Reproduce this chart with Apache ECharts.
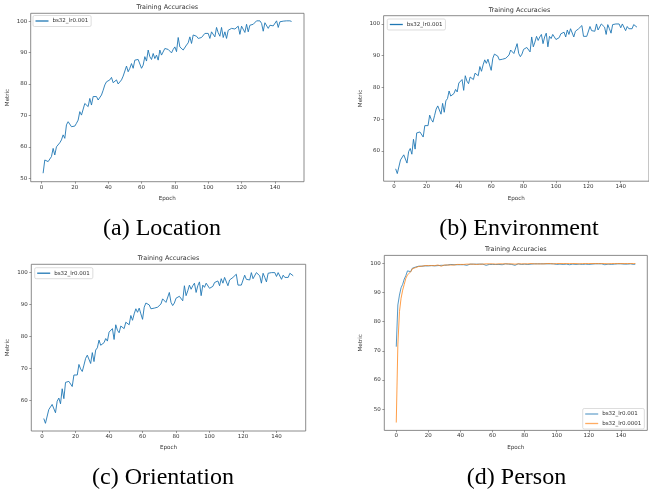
<!DOCTYPE html>
<html>
<head>
<meta charset="utf-8">
<script src="https://cdn.jsdelivr.net/npm/echarts@6/dist/echarts.min.js"></script>
<style>
  html, body { margin: 0; padding: 0; background: #fff; }
  #chart { width: 649px; height: 492px; }
</style>
</head>
<body>
<div id="chart"></div>
<script>
// (a) Location, epochs 1..150
const locationAcc = [
  51.6, 55.8, 56.4, 55.3, 55.1, 56.9, 59.5, 57.4, 60.0, 60.6,
  61.3, 62.2, 63.8, 62.7, 67.0, 68.0, 67.5, 66.4, 67.0, 66.6,
  67.5, 68.5, 71.2, 70.1, 70.7, 73.8, 74.4, 72.8, 75.4, 73.3,
  76.0, 76.5, 76.0, 74.9, 75.1, 76.5, 78.0, 79.7, 80.7, 80.2,
  81.3, 82.1, 80.4, 81.0, 81.3, 80.0, 79.9, 81.3, 82.5, 82.3,
  85.7, 83.9, 85.0, 86.5, 85.0, 87.6, 87.1, 87.8, 87.6, 85.0,
  86.0, 88.7, 87.3, 90.8, 88.7, 87.8, 89.7, 88.1, 89.2, 87.6,
  90.8, 89.2, 88.7, 91.3, 91.6, 91.0, 90.8, 89.9, 91.0, 91.8,
  90.3, 94.8, 91.8, 91.3, 90.8, 91.0, 92.4, 93.1, 95.0, 92.9,
  95.6, 95.0, 95.2, 94.5, 94.0, 94.8, 94.2, 96.1, 96.3, 96.1,
  94.5, 96.6, 97.1, 95.0, 98.0, 96.3, 95.2, 98.0, 94.8, 96.6,
  94.5, 97.1, 97.7, 97.7, 97.7, 97.5, 98.0, 98.4, 95.8, 98.4,
  98.7, 96.4, 99.0, 96.6, 98.7, 98.4, 99.0, 98.4, 100.1, 100.3,
  100.1, 99.3, 96.8, 99.5, 99.0, 97.7, 98.7, 98.2, 98.5, 99.0,
  100.1, 98.0, 99.8, 100.0, 100.0, 100.1, 100.1, 100.1, 100.1, 99.9
];

// (b) Environment and (c) Orientation share the same curve, epochs 1..150
const environmentAcc = [
  54.4, 52.9, 52.9, 57.2, 57.7, 58.8, 58.8, 56.2, 59.8, 60.8,
  59.0, 63.7, 60.6, 65.7, 65.7, 66.0, 66.2, 64.4, 68.0, 68.6,
  68.0, 71.3, 69.9, 69.1, 71.1, 73.2, 74.2, 74.7, 71.6, 75.0,
  72.2, 75.8, 76.5, 78.9, 77.3, 77.5, 78.1, 79.4, 78.6, 81.4,
  82.0, 82.5, 79.1, 83.7, 82.0, 81.2, 83.3, 82.7, 82.5, 84.5,
  84.7, 83.7, 86.6, 85.1, 87.1, 88.7, 87.6, 88.9, 87.1, 85.4,
  89.2, 90.5, 90.7, 89.9, 88.7, 88.5, 88.9, 88.9, 89.2, 89.7,
  90.2, 91.8, 91.2, 90.7, 90.2, 93.8, 90.7, 89.7, 90.5, 92.0,
  92.3, 92.6, 92.0, 91.2, 95.9, 92.8, 94.3, 96.1, 94.8, 95.9,
  96.7, 93.8, 95.9, 97.1, 92.8, 96.1, 95.4, 96.7, 96.4, 95.1,
  95.1, 95.7, 96.9, 96.4, 97.4, 95.9, 98.1, 96.7, 98.5, 99.0,
  95.9, 97.7, 98.1, 98.5, 99.0, 99.5, 96.1, 95.9, 96.1, 96.1,
  99.2, 97.9, 98.5, 97.7, 100.0, 98.1, 97.7, 100.0, 100.0, 99.0,
  96.7, 99.8, 98.5, 97.1, 99.8, 99.2, 100.0, 99.5, 100.0, 98.8,
  100.0, 99.8, 97.9, 99.2, 98.5, 98.1, 98.5, 99.8, 99.5, 99.0
];
const orientationAcc = environmentAcc;

// (d) Person, epochs 0..149
const personLr001 = [
  71.4, 85.7, 89.1, 91.6, 92.8, 94.6, 95.8, 97.4, 97.7, 97.1,
  98.3, 98.5, 98.7, 98.8, 99.0, 99.1, 99.0, 99.2, 99.1, 99.2,
  99.1, 99.3, 99.2, 99.3, 99.1, 99.4, 99.2, 99.4, 99.3, 99.5,
  99.3, 99.5, 99.4, 99.5, 99.6, 99.4, 99.5, 99.6, 99.5, 99.6,
  99.5, 99.6, 99.5, 99.7, 99.3, 99.6, 99.7, 99.6, 99.7, 99.6,
  99.7, 99.6, 99.7, 99.5, 99.7, 99.6, 99.3, 99.7, 99.6, 99.7,
  99.6, 99.7, 99.6, 99.8, 99.6, 99.7, 99.5, 99.7, 99.8, 99.6,
  99.7, 99.8, 99.6, 99.7, 99.3, 99.7, 99.8, 99.7, 99.6, 99.8,
  99.7, 99.8, 99.6, 99.8, 99.7, 99.5, 99.8, 99.7, 99.8, 99.6,
  99.8, 99.7, 99.8, 99.6, 99.8, 99.7, 99.8, 99.5, 99.8, 99.7,
  99.6, 99.8, 99.7, 99.8, 99.6, 99.8, 99.7, 99.8, 99.5, 99.8,
  99.7, 99.8, 99.6, 99.8, 99.7, 99.8, 99.6, 99.8, 99.7, 99.8,
  99.6, 99.8, 99.7, 99.5, 99.8, 99.7, 99.8, 99.6, 99.8, 99.7,
  99.5, 99.8, 99.7, 99.8, 99.6, 99.8, 99.7, 99.6, 99.8, 99.7,
  99.8, 99.6, 99.7, 99.8, 99.7, 99.6, 99.8, 99.7, 99.6, 99.7
];
const personLr0001 = [
  45.4, 72.0, 83.4, 88.0, 90.8, 92.8, 94.9, 96.0, 96.2, 97.1,
  98.1, 98.3, 98.5, 98.7, 98.9, 99.0, 99.0, 99.1, 99.2, 99.1,
  99.2, 99.3, 99.2, 99.3, 99.2, 99.3, 99.4, 99.2, 99.0, 99.3,
  99.4, 99.3, 99.4, 99.5, 99.4, 99.5, 99.4, 99.5, 99.6, 99.5,
  99.6, 99.5, 99.6, 99.6, 99.7, 99.6, 99.7, 99.6, 99.7, 99.7,
  99.6, 99.7, 99.7, 99.8, 99.7, 99.7, 99.8, 99.7, 99.8, 99.7,
  99.8, 99.8, 99.7, 99.8, 99.8, 99.7, 99.8, 99.8, 99.8, 99.7,
  99.8, 99.8, 99.8, 99.8, 99.7, 99.8, 99.8, 99.9, 99.8, 99.8,
  99.8, 99.9, 99.8, 99.8, 99.9, 99.8, 99.8, 99.9, 99.8, 99.9,
  99.8, 99.9, 99.8, 99.9, 99.9, 99.8, 99.9, 99.9, 99.8, 99.9,
  99.9, 99.8, 99.9, 99.9, 99.9, 99.8, 99.9, 99.9, 99.9, 99.8,
  99.9, 99.9, 99.9, 99.9, 99.8, 99.9, 99.9, 99.9, 99.9, 99.8,
  99.9, 99.9, 99.9, 99.9, 99.9, 99.8, 99.9, 99.9, 99.9, 99.9,
  99.9, 99.9, 99.8, 99.9, 99.9, 99.9, 99.9, 99.9, 99.9, 99.9,
  99.9, 99.9, 99.9, 99.9, 99.9, 99.9, 99.9, 99.9, 99.9, 99.9
];

const xTicks = [0, 20, 40, 60, 80, 100, 120, 140];
const yTicksABC = [60, 70, 80, 90, 100];
const yTicksA = [50, 60, 70, 80, 90, 100];
const yTicksD = [50, 60, 70, 80, 90, 100];
const captions = ['(a) Location', '(b) Environment', '(c) Orientation', '(d) Person'];
const seriesNames = ['bs32_lr0.001', 'bs32_lr0.0001'];

const BLUE = '#1f77b4';
const ORANGE = '#ff7f0e';
const TXT = '#333';
const SANS = 'DejaVu Sans';

// epoch index starts at 1 for a/b/c, 0 for d
function pairs(vals, start) {
  return vals.map((v, i) => [i + start, v]);
}

// panel boxes
const grids = [
  { left: 30.7, top: 13.3, width: 273.3, height: 168.4 },
  { left: 383.6, top: 15.7, width: 271.8, height: 165.5 },
  { left: 31.3, top: 264.3, width: 274.4, height: 166.7 },
  { left: 384.3, top: 255.4, width: 263, height: 175 }
];
const yRanges = [[48.9, 102.5], [50.5, 102.6], [50.5, 102.6], [42.7, 102.7]];
const xRanges = [[-6.45, 157.45], [-6.45, 157.45], [-6.45, 157.45], [-7.45, 156.45]];
const yTickSets = [yTicksA, yTicksABC, yTicksABC, yTicksD];

const chart = echarts.init(document.getElementById('chart'), null, { renderer: 'canvas' });

const gridOpts = grids.map(g => Object.assign({
  show: true, borderColor: '#6f6f6f', borderWidth: 0.8, backgroundColor: '#fff'
}, g));

const xAxes = grids.map((g, i) => ({
  type: 'value', gridIndex: i, position: 'bottom',
  min: xRanges[i][0], max: xRanges[i][1],
  name: 'Epoch', nameLocation: 'middle', nameGap: 14,
  nameTextStyle: { fontFamily: SANS, fontSize: 5.6, color: TXT },
  axisLine: { show: false, onZero: false },
  axisTick: { show: true, length: 2, customValues: xTicks, lineStyle: { color: '#555', width: 0.6 } },
  axisLabel: { customValues: xTicks, fontFamily: SANS, fontSize: 5.5, color: TXT, margin: 2.5 },
  splitLine: { show: false }
}));

const yAxes = grids.map((g, i) => ({
  type: 'value', gridIndex: i, position: 'left',
  min: yRanges[i][0], max: yRanges[i][1],
  name: 'Metric', nameLocation: 'middle', nameGap: 20.5,
  nameTextStyle: { fontFamily: SANS, fontSize: 5.6, color: TXT },
  axisLine: { show: false, onZero: false },
  axisTick: { show: true, length: 2, customValues: yTickSets[i], lineStyle: { color: '#555', width: 0.6 } },
  axisLabel: { customValues: yTickSets[i], fontFamily: SANS, fontSize: 5.5, color: TXT, margin: 3.5 },
  splitLine: { show: false }
}));

function lineSeries(name, data, idx, color, opacity) {
  return {
    name: name, type: 'line', xAxisIndex: idx, yAxisIndex: idx,
    data: data, showSymbol: false, symbol: 'none',
    lineStyle: { color: color, width: 0.9, opacity: opacity },
    itemStyle: { color: color },
    emphasis: { disabled: true }
  };
}

const series = [
  lineSeries(seriesNames[0], pairs(locationAcc, 1), 0, BLUE, 1),
  lineSeries(seriesNames[0], pairs(environmentAcc, 1), 1, BLUE, 1),
  lineSeries(seriesNames[0], pairs(orientationAcc, 1), 2, BLUE, 1),
  lineSeries(seriesNames[0], pairs(personLr001, 0), 3, BLUE, 0.85),
  lineSeries(seriesNames[1], pairs(personLr0001, 0), 3, ORANGE, 0.85)
];

function legendBox(pos, names, colors, opacity) {
  return Object.assign({
    orient: 'vertical',
    data: names.map((n, k) => ({ name: n, itemStyle: { color: colors[k], opacity: opacity } })),
    icon: 'rect', itemWidth: 13, itemHeight: 1.3, itemGap: 3.5,
    padding: [2.5, 3, 2.5, 2.5],
    backgroundColor: '#fff', borderColor: '#cfcfcf', borderWidth: 0.7, borderRadius: 1.5,
    selectedMode: false,
    textStyle: { fontFamily: SANS, fontSize: 5.5, color: TXT, padding: [0, 0, 0, -1] }
  }, pos);
}

const legends = [
  legendBox({ left: 33, top: 15.5 }, [seriesNames[0]], [BLUE], 1),
  legendBox({ left: 387.3, top: 19 }, [seriesNames[0]], [BLUE], 1),
  legendBox({ left: 34.7, top: 267.7 }, [seriesNames[0]], [BLUE], 1),
  legendBox({ left: 582.7, top: 408.5 }, seriesNames, [BLUE, ORANGE], 0.65)
];

function txt(x, y, text, font, color) {
  return { type: 'text', x: x, y: y, silent: true,
    style: { text: text, font: font, fill: color, align: 'center', verticalAlign: 'middle' } };
}

const titleFont = '6.4px "DejaVu Sans"';
const capFont = '24px "Liberation Serif"';
const graphics = [
  txt(167.3, 7, 'Training Accuracies', titleFont, TXT),
  txt(519.5, 10.3, 'Training Accuracies', titleFont, TXT),
  txt(168.5, 258.3, 'Training Accuracies', titleFont, TXT),
  txt(515.8, 249.3, 'Training Accuracies', titleFont, TXT),
  txt(162, 229, captions[0], capFont, '#000'),
  txt(519, 229, captions[1], capFont, '#000'),
  txt(163, 477.5, captions[2], capFont, '#000'),
  txt(516.5, 477.5, captions[3], capFont, '#000')
];

chart.setOption({
  animation: false,
  backgroundColor: '#fff',
  grid: gridOpts,
  xAxis: xAxes,
  yAxis: yAxes,
  legend: legends,
  series: series,
  graphic: graphics
});
</script>
</body>
</html>
